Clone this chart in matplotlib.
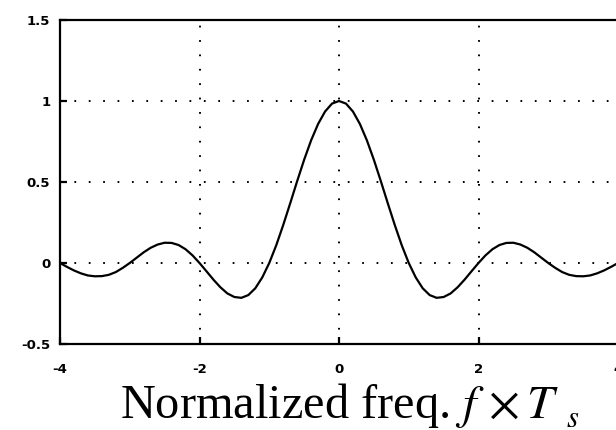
import matplotlib
matplotlib.use("Agg")
import matplotlib.pyplot as plt

x_vals = [-4.0, -3.9, -3.8, -3.7, -3.6, -3.5, -3.4, -3.3, -3.2, -3.1,
          -3.0, -2.9, -2.8, -2.7, -2.6, -2.5, -2.4, -2.3, -2.2, -2.1,
          -2.0, -1.9, -1.8, -1.7, -1.6, -1.5, -1.4, -1.3, -1.2, -1.1,
          -1.0, -0.9, -0.8, -0.7, -0.6, -0.5, -0.4, -0.3, -0.2, -0.1,
          0.0, 0.1, 0.2, 0.3, 0.4, 0.5, 0.6, 0.7, 0.8, 0.9,
          1.0, 1.1, 1.2, 1.3, 1.4, 1.5, 1.6, 1.7, 1.8, 1.9,
          2.0, 2.1, 2.2, 2.3, 2.4, 2.5, 2.6, 2.7, 2.8, 2.9,
          3.0, 3.1, 3.2, 3.3, 3.4, 3.5, 3.6, 3.7, 3.8, 3.9, 4.0]
amplitude = [0.0, -0.024, -0.046, -0.064, -0.077, -0.082, -0.081, -0.073, -0.056, -0.030,
             0.0, 0.033, 0.066, 0.094, 0.114, 0.125, 0.124, 0.111, 0.085, 0.047,
             0.0, -0.051, -0.103, -0.150, -0.188, -0.210, -0.215, -0.198, -0.156, -0.089,
             0.0, 0.109, 0.234, 0.368, 0.505, 0.637, 0.757, 0.858, 0.935, 0.984,
             1.0, 0.984, 0.935, 0.858, 0.757, 0.637, 0.505, 0.368, 0.234, 0.109,
             0.0, -0.089, -0.156, -0.198, -0.215, -0.210, -0.188, -0.150, -0.103, -0.051,
             0.0, 0.047, 0.085, 0.111, 0.124, 0.125, 0.114, 0.094, 0.066, 0.033,
             0.0, -0.030, -0.056, -0.073, -0.081, -0.082, -0.077, -0.064, -0.046, -0.024, 0.0]
x_ticks = [-4, -2, 0, 2, 4]
x_tick_labels = ["-4", "-2", "0", "2", "4"]
y_ticks = [-0.5, 0, 0.5, 1, 1.5]
y_tick_labels = ["-0.5", "0", "0.5", "1", "1.5"]
x_label_main = r"Normalized freq. $f\,\times T$"
x_label_sub = r"$s$"

plt.rcParams['mathtext.fontset'] = 'stix'

fig = plt.figure(figsize=(6.16, 4.30), dpi=100)
ax = fig.add_axes([60/616, 1-344/430, 558/616, 324/430])

ax.plot(x_vals, amplitude, color='black', lw=1.6)
ax.set_xlim(-4, 4)
ax.set_ylim(-0.5, 1.5)

ax.tick_params(direction='in', length=5, width=1.6, top=False, right=False)
ax.tick_params(axis='x', pad=14)
ax.tick_params(axis='y', pad=7)

tick_font = dict(fontweight='bold', fontsize=9.5, family='DejaVu Sans')
ax.set_xticks(x_ticks)
ax.set_xticklabels(x_tick_labels, **tick_font)
ax.set_yticks(y_ticks)
ax.set_yticklabels(y_tick_labels, **tick_font)

for s in ax.spines.values():
    s.set_linewidth(1.6)

ax.grid(True, color='black', lw=1.4, linestyle=(0, (0.9, 6.5)))

fig.text(120/616, 1-418/430, x_label_main, family='Liberation Serif',
         fontsize=34.8, ha='left', va='baseline')
fig.text(566/616, 1-427/430, x_label_sub, fontsize=22, ha='left', va='baseline')

fig.savefig("out.png", dpi=100)
